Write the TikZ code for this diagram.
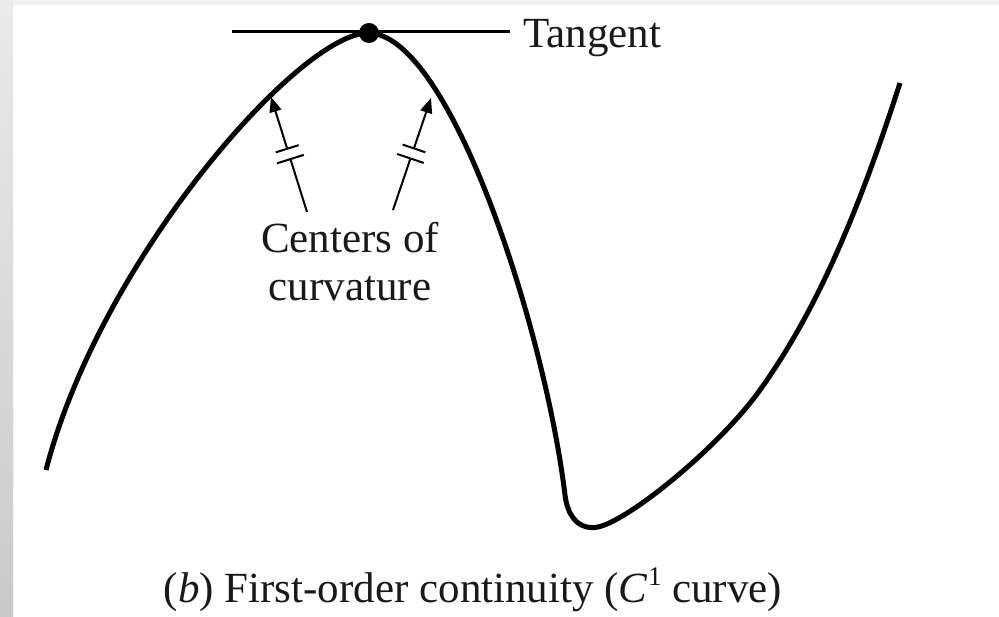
\documentclass[tikz,border=0pt]{standalone}
\usepackage{fontspec}
\setmainfont{Liberation Serif}
\usetikzlibrary{arrows.meta,calc}
\begin{document}
\begin{tikzpicture}[x=1pt,y=-1pt,
  curveline/.style={line width=5pt,line join=round},
  ptr/.style={line width=2pt,-{Triangle[length=15pt,width=12pt]}},
  brk/.style={line width=2pt},
  tanline/.style={line width=3pt},
  lbl/.style={font=\fontsize{43}{48}\selectfont,inner sep=0pt,text=black!90},
]
\useasboundingbox (0,0) rectangle (999,617);
\fill[white] (0,0) rectangle (999,617);
\shade[top color=black!8,bottom color=black!21] (0,0) rectangle (13,617);
\fill[black!6] (13,0) rectangle (999,5);

% curve
\draw[curveline] (46,470) .. controls (100,260) and (300,33) .. (368,33)
  .. controls (450,33) and (545,330) .. (565,495)
  .. controls (568,520) and (582,530.5) .. (598,527)
  .. controls (630,520) and (720,446) .. (760,390)
  .. controls (812.5,316.5) and (854.5,224.4) .. (900,83);

% tangent
\coordinate (tl) at (232,32);
\coordinate (tr) at (510,32);
\draw[tanline] (tl) -- (tr);
\node[circle,fill=black,inner sep=0pt,minimum size=20pt] (dot) at (369,33) {};
\node[lbl,anchor=base west] (tangent) at (523,48) {Tangent};

% label
\node[lbl,align=center,anchor=north] (centers) at (350,222) {Centers of\\curvature};

% left pointer
\coordinate (lt) at (271,97);
\coordinate (lb) at (307,212);
\coordinate (lg1) at ($(lb)!0.46!(lt)$);
\coordinate (lg2) at ($(lb)!0.55!(lt)$);
\draw[brk] (lb) -- (lg1);
\draw[ptr] (lg2) -- (lt);
\draw[brk] ($(lg1)!14pt!90:(lt)$) -- ($(lg1)!14pt!-90:(lt)$);
\draw[brk] ($(lg2)!12pt!90:(lt)$) -- ($(lg2)!12pt!-90:(lt)$);

% right pointer
\coordinate (rt) at (431,98);
\coordinate (rb) at (393,210);
\coordinate (rg1) at ($(rb)!0.46!(rt)$);
\coordinate (rg2) at ($(rb)!0.55!(rt)$);
\draw[brk] (rb) -- (rg1);
\draw[ptr] (rg2) -- (rt);
\draw[brk] ($(rg1)!14pt!90:(rt)$) -- ($(rg1)!14pt!-90:(rt)$);
\draw[brk] ($(rg2)!12pt!90:(rt)$) -- ($(rg2)!12pt!-90:(rt)$);

% caption
\node[lbl,anchor=base] (caption) at (473,602) {(\textit{b}) First-order continuity (\textit{C}\raisebox{17pt}{\fontsize{27}{27}\selectfont 1} curve)};
\end{tikzpicture}
\end{document}
